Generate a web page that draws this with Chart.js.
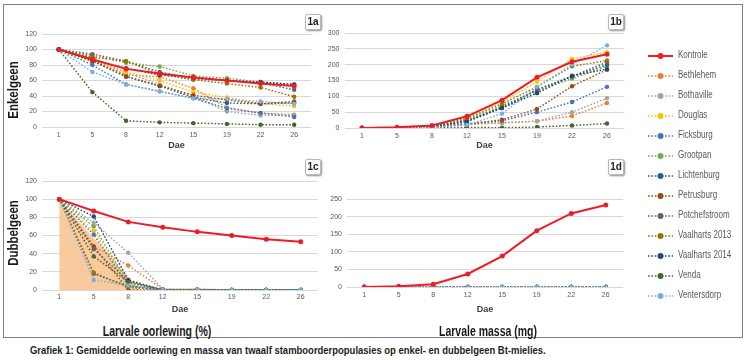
<!DOCTYPE html>
<html><head><meta charset="utf-8">
<script src="https://cdn.jsdelivr.net/npm/chart.js@4/dist/chart.umd.min.js"></script>
<style>
body{margin:0;width:750px;height:360px;background:#fff;position:relative;overflow:hidden;font-family:"Liberation Sans",Arial,sans-serif;}
.frame{position:absolute;left:3px;top:4px;width:740px;height:334px;border:1.5px solid #808080;box-sizing:border-box;}
.pane{position:absolute;}
.tag{position:absolute;width:16px;height:16px;box-sizing:border-box;background:#fff;border:1px solid #b8b8b8;border-radius:2px;box-shadow:1px 1px 2px rgba(0,0,0,.45);font:bold 10px "Liberation Sans",Arial,sans-serif;color:#222;text-align:center;line-height:14px;}
.ytitle{position:absolute;font-weight:bold;font-size:14px;color:#1a1a1a;transform:translate(-50%,-50%) rotate(-90deg) scaleX(0.82);white-space:nowrap;}
.btitle{position:absolute;font-weight:bold;font-size:14px;color:#1a1a1a;transform:translate(-50%,-50%) scaleX(0.75);white-space:nowrap;}
.caption{position:absolute;left:30px;top:344px;font-weight:bold;font-size:11px;color:#231f20;white-space:nowrap;transform:scaleX(0.86);transform-origin:0 50%;}
.leg{position:absolute;left:646px;font:10px "Liberation Sans",sans-serif;color:#595959;height:14px;line-height:14px;white-space:nowrap;}
.leg svg{position:absolute;left:0;top:2px;}
.leg span{position:absolute;left:32px;top:-1px;transform:scaleX(0.8);transform-origin:0 50%;}
</style>
</head><body>
<div class="frame"></div>
<div class="pane" style="left:4px;top:20px"><canvas id="c1a" width="321" height="136"></canvas></div>
<div class="pane" style="left:315px;top:20px"><canvas id="c1b" width="325" height="136"></canvas></div>
<div class="pane" style="left:4px;top:160px"><canvas id="c1c" width="321" height="160"></canvas></div>
<div class="pane" style="left:315px;top:160px"><canvas id="c1d" width="325" height="160"></canvas></div>
<div class="tag" style="left:305px;top:14px">1a</div>
<div class="tag" style="left:608px;top:14px">1b</div>
<div class="tag" style="left:305px;top:159px">1c</div>
<div class="tag" style="left:608px;top:159px">1d</div>
<div class="ytitle" style="left:13px;top:90px">Enkelgeen</div>
<div class="ytitle" style="left:13px;top:233px">Dubbelgeen</div>
<div class="btitle" style="left:157px;top:331px">Larvale oorlewing (%)</div>
<div class="btitle" style="left:488px;top:331px">Larvale massa (mg)</div>
<div class="caption">Grafiek 1: Gemiddelde oorlewing en massa van twaalf stamboorderpopulasies op enkel- en dubbelgeen Bt-mielies.</div>
<div id="legend"></div>
<script>
// ---------- DATA ----------
const dae = ['1','5','8','12','15','19','22','26'];
const kontroleNaam = 'Kontrole';
const populasies = ['Bethlehem','Bothaville','Douglas','Ficksburg','Grootpan','Lichtenburg','Petrusburg','Potchefstroom','Vaalharts 2013','Vaalharts 2014','Venda','Ventersdorp'];
const kleure = ['#ED7D31','#A5A5A5','#FFC000','#4472C4','#70AD47','#255E91','#9E480E','#636363','#997300','#264478','#43682B','#7CAFDD'];
const kontroleKleur = '#EE1C25';

const kontroleOorlewing = [100,87,75,69,64,60,56,53];
const kontroleMassa     = [0,2,8,37,88,160,209,233];

// 1a: survival on single-gene (%)
const oorlewingEnkel = [
  [100,88,67,65,50,25,18,16],   // Bethlehem
  [100,90,70,55,40,20,15,15],   // Bothaville
  [100,84,71,60,45,38,30,27],   // Douglas
  [100,80,55,46,37,24,18,13],   // Ficksburg
  [100,92,83,78,66,63,58,55],   // Grootpan
  [100,86,65,53,38,31,30,31],   // Lichtenburg
  [100,85,65,53,41,35,30,33],   // Petrusburg
  [100,94,85,71,62,60,57,48],   // Potchefstroom
  [100,90,85,68,61,56,51,39],   // Vaalharts 2013
  [100,87,76,67,64,60,58,55],   // Vaalharts 2014
  [100,45,8,6,5,4,3,3],         // Venda
  [100,71,55,46,37,36,33,30]    // Ventersdorp
];
// 1b: larval mass on single-gene (mg)
const massaEnkel = [
  [0,1,3,12,16,21,38,79],
  [0,1,3,12,17,22,50,94],
  [0,1,5,33,81,146,218,239],
  [0,1,4,14,23,50,82,130],
  [0,1,5,25,70,116,156,195],
  [0,1,5,22,66,121,163,200],
  [0,1,3,12,26,60,132,184],
  [0,1,5,24,63,120,163,208],
  [0,1,6,30,76,130,195,213],
  [0,1,4,20,63,110,165,186],
  [0,0,1,2,1,3,8,14],
  [0,1,3,10,45,130,200,261]
];
// 1c: survival on double-gene (%)
const oorlewingDubbel = [
  [100,48,27,1,1,0,0,0],
  [100,74,41,1,0,0,0,0],
  [100,65,8,0,1,0,0,0],
  [100,61,5,0,0,0,0,0],
  [100,70,8,0,0,0,0,0],
  [100,18,4,0,0,0,0,0],
  [100,48,0,0,0,0,0,0],
  [100,45,10,0,0,0,0,0],
  [100,19,3,0,0,0,0,0],
  [100,81,11,0,0,0,0,0],
  [100,37,9,0,0,0,0,0],
  [100,11,5,0,0,0,0,0]
];
// 1d: larval mass on double-gene (mg)
const massaDubbel = [
  [0,0,0,0,0,0,0,0],[0,0,0,0,0,0,0,0],[0,0,0,0,0,0,0,0],[0,0,0,0,0,0,0,0],
  [0,0,0,0,0,0,0,0],[0,0,0,0,0,0,0,0],[0,0,0,0,0,0,0,0],[0,0,0,0,0,0,0,0],
  [0,0,0,0,0,0,0,0],[0,0,0,0,0,0,0,0],[0,0,0,0,0,0,0,0],[0,0,0,0,0,0,0,0]
];
// shaded area in 1c (category-index position, value)
const skaduX = [0, 2.35];
const skaduY = [100, 0];
const skaduKleur = 'rgba(248,196,146,0.9)';

// ---------- BUILD ----------
const FONT = '"Liberation Sans", Arial, sans-serif';
function datasets(kontrole, reeks){
  const ds = [{
    label: kontroleNaam, data: kontrole, borderColor: kontroleKleur, backgroundColor: kontroleKleur,
    borderWidth: 2, pointRadius: 2.5, pointBorderWidth: 0, tension: 0, order: 0
  }];
  reeks.forEach((vals,i)=>{
    ds.push({
      label: populasies[i], data: vals, borderColor: kleure[i], backgroundColor: kleure[i],
      borderWidth: 1.4, borderDash:[1.6,1.8], pointRadius: 2.2, pointBorderWidth: 0, tension: 0,
      order: populasies.length - i
    });
  });
  return ds;
}
function build(id, o){
  const scales = {
    x: {
      type:'category', labels: dae, offset:true,
      grid:{display:false, drawTicks:false}, border:{display:false},
      ticks:{font:{size:7,family:FONT}, color:'#595959', padding:o.tp, maxRotation:0, autoSkip:false},
      title:{display:true, text:'Dae', font:{size:9,weight:'bold',family:FONT}, color:'#404040', padding:{top:0,bottom:4.6}},
      afterFit(s){ s.height = o.xh; }
    },
    y: {
      min:0, max:o.ymax,
      ticks:{stepSize:o.step, font:{size:7,family:FONT}, color:'#595959', padding:5},
      grid:{color:'#d9d9d9', drawTicks:false, lineWidth:1}, border:{display:false},
      afterFit(s){ s.width = o.yw; }
    }
  };
  if (o.extra) scales.xf = {type:'linear', display:false, min:-0.5, max:dae.length-0.5};
  const ds = o.ds.slice();
  if (o.extra) ds.push(o.extra);
  new Chart(document.getElementById(id), {
    type:'line',
    data:{labels:dae, datasets:ds},
    options:{
      responsive:false, animation:false, devicePixelRatio:1,
      layout:{padding:{top:o.pt, right:o.pr, left:0, bottom:0}},
      plugins:{legend:{display:false}, tooltip:{enabled:false}},
      scales
    }
  });
}
build('c1a',{ds:datasets(kontroleOorlewing, oorlewingEnkel), ymax:120, step:20, yw:38, xh:29, pt:14, pr:14, tp:4});
build('c1b',{ds:datasets(kontroleMassa, massaEnkel), ymax:300, step:50, yw:29.5, xh:28, pt:13, pr:15.5, tp:4});
build('c1c',{ds:datasets(kontroleOorlewing, oorlewingDubbel), ymax:120, step:20, yw:38, xh:30, pt:21, pr:7, tp:3,
  extra:{label:'skadu', xAxisID:'xf', data: skaduX.map((x,i)=>({x, y:skaduY[i]})), borderWidth:0, pointRadius:0,
         backgroundColor: skaduKleur, borderColor:'rgba(0,0,0,0)', fill:'origin', order:99}});
build('c1d',{ds:datasets(kontroleMassa, massaDubbel), ymax:250, step:50, yw:32, xh:33, pt:39, pr:17, tp:4});

// ---------- LEGEND ----------
const leg = document.getElementById('legend');
const items = [{n:kontroleNaam,c:kontroleKleur,solid:true}].concat(populasies.map((n,i)=>({n,c:kleure[i]})));
items.forEach((it,i)=>{
  const d = document.createElement('div');
  d.className='leg';
  d.style.top = (49 + i*20) + 'px';
  const line = it.solid
    ? `<line x1="2" y1="5" x2="27" y2="5" stroke="${it.c}" stroke-width="2"/>`
    : `<line x1="2" y1="5" x2="27" y2="5" stroke="${it.c}" stroke-width="1.6" stroke-dasharray="1.6 1.8"/>`;
  d.innerHTML = `<svg width="30" height="10">${line}<circle cx="14.5" cy="5" r="3" fill="${it.c}"/></svg><span>${it.n}</span>`;
  leg.appendChild(d);
});
</script>
</body></html>
